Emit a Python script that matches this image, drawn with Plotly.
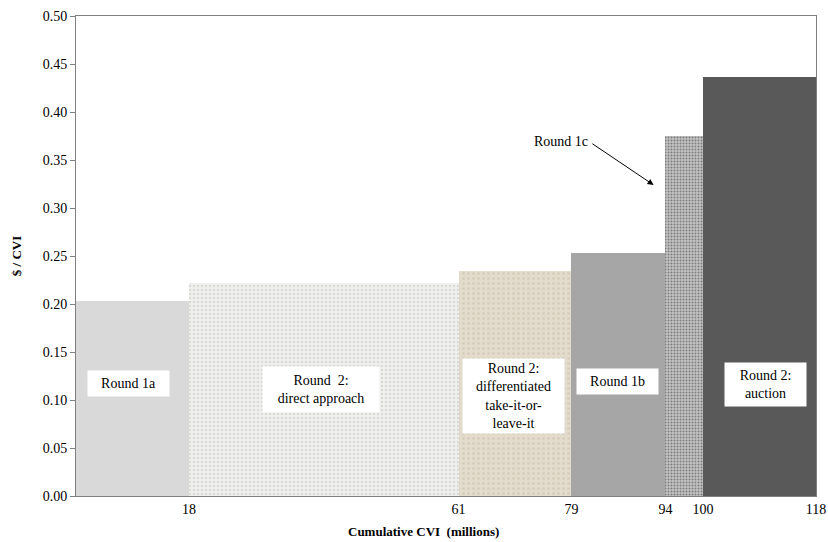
import plotly.graph_objects as go

# Data
rounds = ["Round 1a", "Round 2: direct approach", "Round 2: differentiated take-it-or-leave-it",
          "Round 1b", "Round 1c", "Round 2: auction"]
cum_edges = [0, 18, 61, 79, 94, 100, 118]
price = [0.203, 0.222, 0.234, 0.253, 0.375, 0.436]
tick_vals = [18, 61, 79, 94, 100, 118]
y_ticks = [0.00, 0.05, 0.10, 0.15, 0.20, 0.25, 0.30, 0.35, 0.40, 0.45, 0.50]

centers = [(cum_edges[i] + cum_edges[i + 1]) / 2 for i in range(len(price))]
widths = [cum_edges[i + 1] - cum_edges[i] for i in range(len(price))]

styles = [
    dict(color="#d9d9d9"),
    dict(color="#efefed", pattern=dict(shape=".", fgcolor="#dadad6", bgcolor="#f0f0ee", size=4, solidity=0.3)),
    dict(color="#e2dacb", pattern=dict(shape=".", fgcolor="#d4cbb9", bgcolor="#e3dbcc", size=5, solidity=0.2)),
    dict(color="#a6a6a6"),
    dict(color="#bcbcbc", pattern=dict(shape=".", fgcolor="#7c7c7c", bgcolor="#c4c4c4", size=3, solidity=0.35)),
    dict(color="#595959"),
]

fig = go.Figure()
for i in range(len(price)):
    fig.add_trace(go.Bar(
        x=[centers[i]], y=[price[i]], width=[widths[i]],
        marker=dict(line=dict(width=0), **styles[i]),
        name=rounds[i], showlegend=False, hoverinfo="skip",
    ))

serif = "Liberation Serif"
font = dict(family=serif, size=14, color="#000000")

labels = [
    ("Round 1a", 8.3, 0.117, 81, 25),
    ("Round  2:<br>direct approach", 39.0, 0.111, 116, 45),
    ("Round 2:<br>differentiated<br>take-it-or-<br>leave-it", 69.7, 0.104, 101, 74),
    ("Round 1b", 86.4, 0.119, 81, 25),
    ("Round 2:<br>auction", 110.0, 0.116, 81, 43),
]
annotations = []
for text, x, y, w, h in labels:
    annotations.append(dict(
        x=x, y=y, xref="x", yref="y", text=text, showarrow=False,
        bgcolor="#ffffff", width=w, height=h, borderpad=0, font=font, align="center",
    ))

annotations.append(dict(
    x=92.1, y=0.324, xref="x", yref="y", ax=82.1, ay=0.368, axref="x", ayref="y",
    text="", showarrow=True, arrowhead=2, arrowsize=1.2, arrowwidth=1, arrowcolor="#000000",
))
annotations.append(dict(
    x=77.4, y=0.369, xref="x", yref="y", text="Round 1c", showarrow=False, font=font,
    xanchor="center",
))
annotations.append(dict(
    x=0.469, y=-0.074, xref="paper", yref="paper", text="<b>Cumulative CVI  (millions)</b>",
    showarrow=False, font=dict(family=serif, size=13, color="#000000"),
    xanchor="center", yanchor="middle",
))

fig.update_layout(
    template="none",
    width=828, height=542,
    margin=dict(l=76, r=12, t=16, b=46, autoexpand=False),
    plot_bgcolor="#ffffff", paper_bgcolor="#ffffff",
    barmode="overlay", bargap=0,
    font=font,
    annotations=annotations,
    xaxis=dict(
        range=[0, 118], tickmode="array", tickvals=tick_vals, automargin=False,
        ticktext=[str(v) for v in tick_vals], ticks="", showgrid=False, zeroline=False,
        showline=True, linecolor="#808080", linewidth=1, mirror=True,
        tickfont=font,
    ),
    yaxis=dict(
        range=[0, 0.5], tickmode="array", tickvals=y_ticks, automargin=False,
        ticktext=[f"{v:.2f}" for v in y_ticks], ticks="outside", ticklen=5, tickcolor="#808080",
        showgrid=False, zeroline=False,
        showline=True, linecolor="#808080", linewidth=1, mirror=True,
        title=dict(text="<b>$ / CVI</b>", standoff=18,
                   font=dict(family=serif, size=13)),
        tickfont=font,
    ),
)

fig.write_html("out.html")
